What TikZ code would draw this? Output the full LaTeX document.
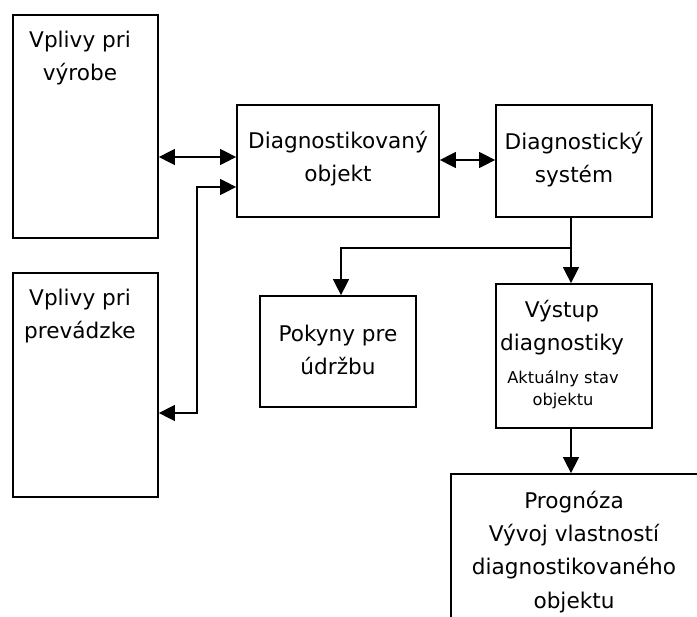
\documentclass[tikz,border=0pt]{standalone}
\usepackage{fontspec}
\setmainfont{DejaVu Sans}
\usetikzlibrary{arrows.meta,fit}

\tikzset{
  box/.style={draw, line width=1.3pt, inner sep=0pt},
  boxtext/.style={align=center, anchor=north, inner sep=0pt, font=\fontsize{16.2}{25}\selectfont},
  smalltext/.style={align=center, anchor=north, inner sep=0pt, font=\fontsize{12.2}{16.5}\selectfont},
  onearrow/.style={line width=1pt, -{Triangle[length=12pt,width=12pt]}},
  dblarrow/.style={line width=1pt, {Triangle[length=12pt,width=12pt]}-{Triangle[length=12pt,width=12pt]}},
}

\begin{document}
\begin{tikzpicture}[x=0.75pt, y=-0.75pt]
    \useasboundingbox (0,0) rectangle (697,617);
    \clip (0,0) rectangle (697,617);
    % boxes
    \node[box, fit={(13,15) (158,238)}] (vyroba) {};
    \node[box, fit={(13,273) (158,497)}] (prevadzka) {};
    \node[box, fit={(237,105) (439,217)}] (objekt) {};
    \node[box, fit={(496,105) (652,217)}] (system) {};
    \node[box, fit={(260,296) (416,407)}] (pokyny) {};
    \node[box, fit={(496,284) (652,428)}] (vystup) {};
    \node[box, fit={(451,474) (705,640)}] (prognoza) {};
    % texts
    \node[boxtext] (vyroba text) at (80,23.7) {\strut Vplivy pri\\výrobe};
    \node[boxtext] (prevadzka text) at (80,281.7) {\strut Vplivy pri\\prevádzke};
    \node[boxtext] (objekt text) at (338,124.7) {\strut Diagnostikovaný\\objekt};
    \node[boxtext] (system text) at (574,125.7) {\strut Diagnostický\\systém};
    \node[boxtext] (pokyny text) at (338,317.7) {\strut Pokyny pre\\údržbu};
    \node[boxtext] (vystup text) at (562,293.7) {\strut Výstup\\diagnostiky};
    \node[smalltext] (stav text) at (563,367.6) {\strut Aktuálny stav\\objektu};
    \node[boxtext] (prognoza text) at (574,484.7) {\strut Prognóza\\Vývoj vlastností\\diagnostikovaného\\objektu};
    % connectors
    \draw[dblarrow] (vyroba.east |- 0,157) -- (objekt.west |- 0,157);
    \draw[dblarrow] (prevadzka.east |- 0,413) -| (197,187) -- (objekt.west |- 0,187);
    \draw[dblarrow] (objekt.east |- 0,160) -- (system.west |- 0,160);
    \draw[onearrow] (system.south -| 571,0) -- (vystup.north -| 571,0);
    \draw[onearrow] (571,248) -| (pokyny.north -| 341,0);
    \draw[onearrow] (vystup.south -| 571,0) -- (prognoza.north -| 571,0);
\end{tikzpicture}
\end{document}
